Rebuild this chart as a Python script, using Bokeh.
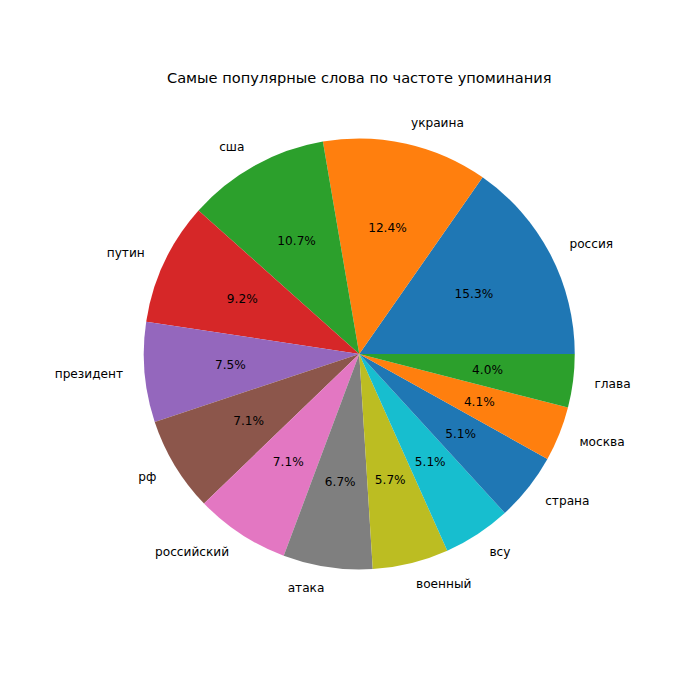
import numpy as np
from bokeh.plotting import figure
from bokeh.models import ColumnDataSource, Range1d
from bokeh.core.properties import value
from bokeh.embed import file_html
from bokeh.resources import INLINE

title = "Самые популярные слова по частоте упоминания"
words = ["россия", "украина", "сша", "путин", "президент", "рф", "российский",
         "атака", "военный", "всу", "страна", "москва", "глава"]
shares = [15.3, 12.4, 10.7, 9.2, 7.5, 7.1, 7.1, 6.7, 5.7, 5.1, 5.1, 4.1, 4.0]
colors = ["#1f77b4", "#ff7f0e", "#2ca02c", "#d62728", "#9467bd", "#8c564b",
          "#e377c2", "#7f7f7f", "#bcbd22", "#17becf", "#1f77b4", "#ff7f0e", "#2ca02c"]

vals = np.array(shares, dtype=float)
frac = vals / vals.sum()
ends = np.cumsum(frac) * 2 * np.pi
starts = ends - frac * 2 * np.pi
mids = (starts + ends) / 2
pct = [f"{f*100:.1f}%" for f in frac]

# pixel geometry of the matplotlib-like layout
cx, cy, r_px = 358.75, 353.5, 215.5
W = H = 684
x0, y0 = 0, 0
xr = Range1d((x0 - cx) / r_px, (x0 + W - cx) / r_px)
yr = Range1d((cy - (y0 + H)) / r_px, (cy - y0) / r_px)

p = figure(width=W, height=H, x_range=xr, y_range=yr, output_backend="svg",
           toolbar_location=None, min_border=0)
p.axis.visible = False
p.grid.visible = False
p.outline_line_color = None
p.background_fill_color = "white"
p.border_fill_color = "white"

src = ColumnDataSource(dict(start=starts, end=ends, color=colors))
p.wedge(x=0, y=0, radius=1, start_angle="start", end_angle="end",
        direction="anticlock", fill_color="color", line_color=None, source=src)

font = value("DejaVu Sans")
fs = "12.15px"
lx = 1.1 * np.cos(mids)
ly = 1.1 * np.sin(mids)
left = [i for i in range(len(words)) if lx[i] >= 0]
right = [i for i in range(len(words)) if lx[i] < 0]
for idx, align in ((left, "left"), (right, "right")):
    s = ColumnDataSource(dict(x=lx[idx], y=ly[idx], t=[words[i] for i in idx]))
    p.text(x="x", y="y", text="t", source=s, text_align=align,
           text_baseline="middle", text_font=font, text_font_size=fs,
           text_color="black")

ps = ColumnDataSource(dict(x=0.6 * np.cos(mids), y=0.6 * np.sin(mids), t=pct))
p.text(x="x", y="y", text="t", source=ps, text_align="center",
       text_baseline="middle", text_font=font, text_font_size=fs,
       text_color="black")

ts = ColumnDataSource(dict(x=[0.0], y=[(cy - 76.8) / r_px], t=[title]))
p.text(x="x", y="y", text="t", source=ts, text_align="center",
       text_baseline="alphabetic", text_font=font, text_font_size="14.6px",
       text_color="black")

open("out.html", "w").write(file_html(p, INLINE))
